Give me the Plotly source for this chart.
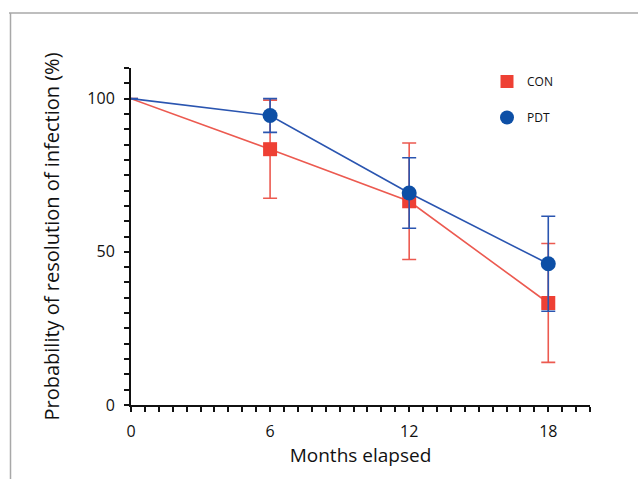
import plotly.graph_objects as go

months = [0, 6, 12, 18]
con_vals = [100, 83.5, 66.5, 33.3]
con_err = [0, 16, 19, 19.4]
pdt_vals = [100, 94.5, 69.2, 46.1]
pdt_err = [0, 5.5, 11.5, 15.5]
x_ticks = [0, 6, 12, 18]
y_ticks = [0, 50, 100]

RED = "#EE4034"
RED_LINE = "#EC5A50"
BLUE = "#0D4FA6"
BLUE_LINE = "#2A55B0"

fig = go.Figure()

fig.add_trace(go.Scatter(
    x=months, y=con_vals, mode="lines+markers", showlegend=False,
    line=dict(color=RED_LINE, width=1.6),
    marker=dict(symbol="square", size=[0, 14, 14, 14], color=RED, opacity=1, line=dict(width=0)),
    error_y=dict(type="data", array=con_err, visible=True, color=RED_LINE, thickness=1.6, width=7),
))
fig.add_trace(go.Scatter(
    x=months, y=pdt_vals, mode="lines+markers", showlegend=False,
    line=dict(color=BLUE_LINE, width=1.6),
    marker=dict(symbol="circle", size=[0, 15, 15, 15], color=BLUE, opacity=1, line=dict(width=0)),
    error_y=dict(type="data", array=pdt_err, visible=True, color=BLUE_LINE, thickness=1.6, width=7),
))
# legend-only entries
fig.add_trace(go.Scatter(x=[None], y=[None], mode="markers", name="CON", legendgroup="a",
                         marker=dict(symbol="square", size=13, color=RED)))
fig.add_trace(go.Scatter(x=[None], y=[None], mode="markers", name="PDT", legendgroup="b",
                         marker=dict(symbol="circle", size=14, color=BLUE)))

W, H = 638, 479
L, R, T, B = 131, 48, 68, 74

def px(xp):
    return (xp - L) / (W - L - R)

def py(yp):
    return (H - B - yp) / (H - T - B)

fig.add_shape(type="line", xref="paper", yref="paper", x0=px(9), x1=px(W + 5), y0=py(13), y1=py(13),
              line=dict(color="#A8A8A8", width=1.5))
fig.add_shape(type="line", xref="paper", yref="paper", x0=px(10.5), x1=px(10.5), y0=py(13), y1=py(H + 5),
              line=dict(color="#A8A8A8", width=1.5))

fig.update_layout(
    width=W, height=H,
    margin=dict(l=L, r=R, t=T, b=B),
    paper_bgcolor="white", plot_bgcolor="white",
    font=dict(family="Open Sans", color="#111111"),
    legend=dict(x=px(487), y=py(67), xanchor="left", yanchor="top", font=dict(size=12),
                tracegroupgap=17, bgcolor="rgba(0,0,0,0)"),
    xaxis=dict(
        range=[0, 19.8], tickvals=x_ticks, ticktext=[str(v) for v in x_ticks],
        showline=True, linecolor="#111111", linewidth=2, ticks="outside", ticklen=5,
        tickwidth=2, tickcolor="#111111", showgrid=False, zeroline=False,
        tickfont=dict(size=16), ticklabelstandoff=6,
        minor=dict(dtick=0.6, tick0=0, ticks="outside", ticklen=5, tickwidth=2, tickcolor="#111111", showgrid=False),
        title=dict(text="Months elapsed", font=dict(size=19), standoff=4),
    ),
    yaxis=dict(
        range=[0, 110], tickvals=y_ticks, ticktext=[str(v) for v in y_ticks],
        showline=True, linecolor="#111111", linewidth=2, ticks="outside", ticklen=5,
        tickwidth=2, tickcolor="#111111", showgrid=False, zeroline=False,
        tickfont=dict(size=16), ticklabelstandoff=6,
        minor=dict(dtick=5, tick0=0, ticks="outside", ticklen=5, tickwidth=2, tickcolor="#111111", showgrid=False),
        title=dict(text="Probability of resolution of infection (%)", font=dict(size=20), standoff=22),
    ),
)

fig.write_html("out.html")
